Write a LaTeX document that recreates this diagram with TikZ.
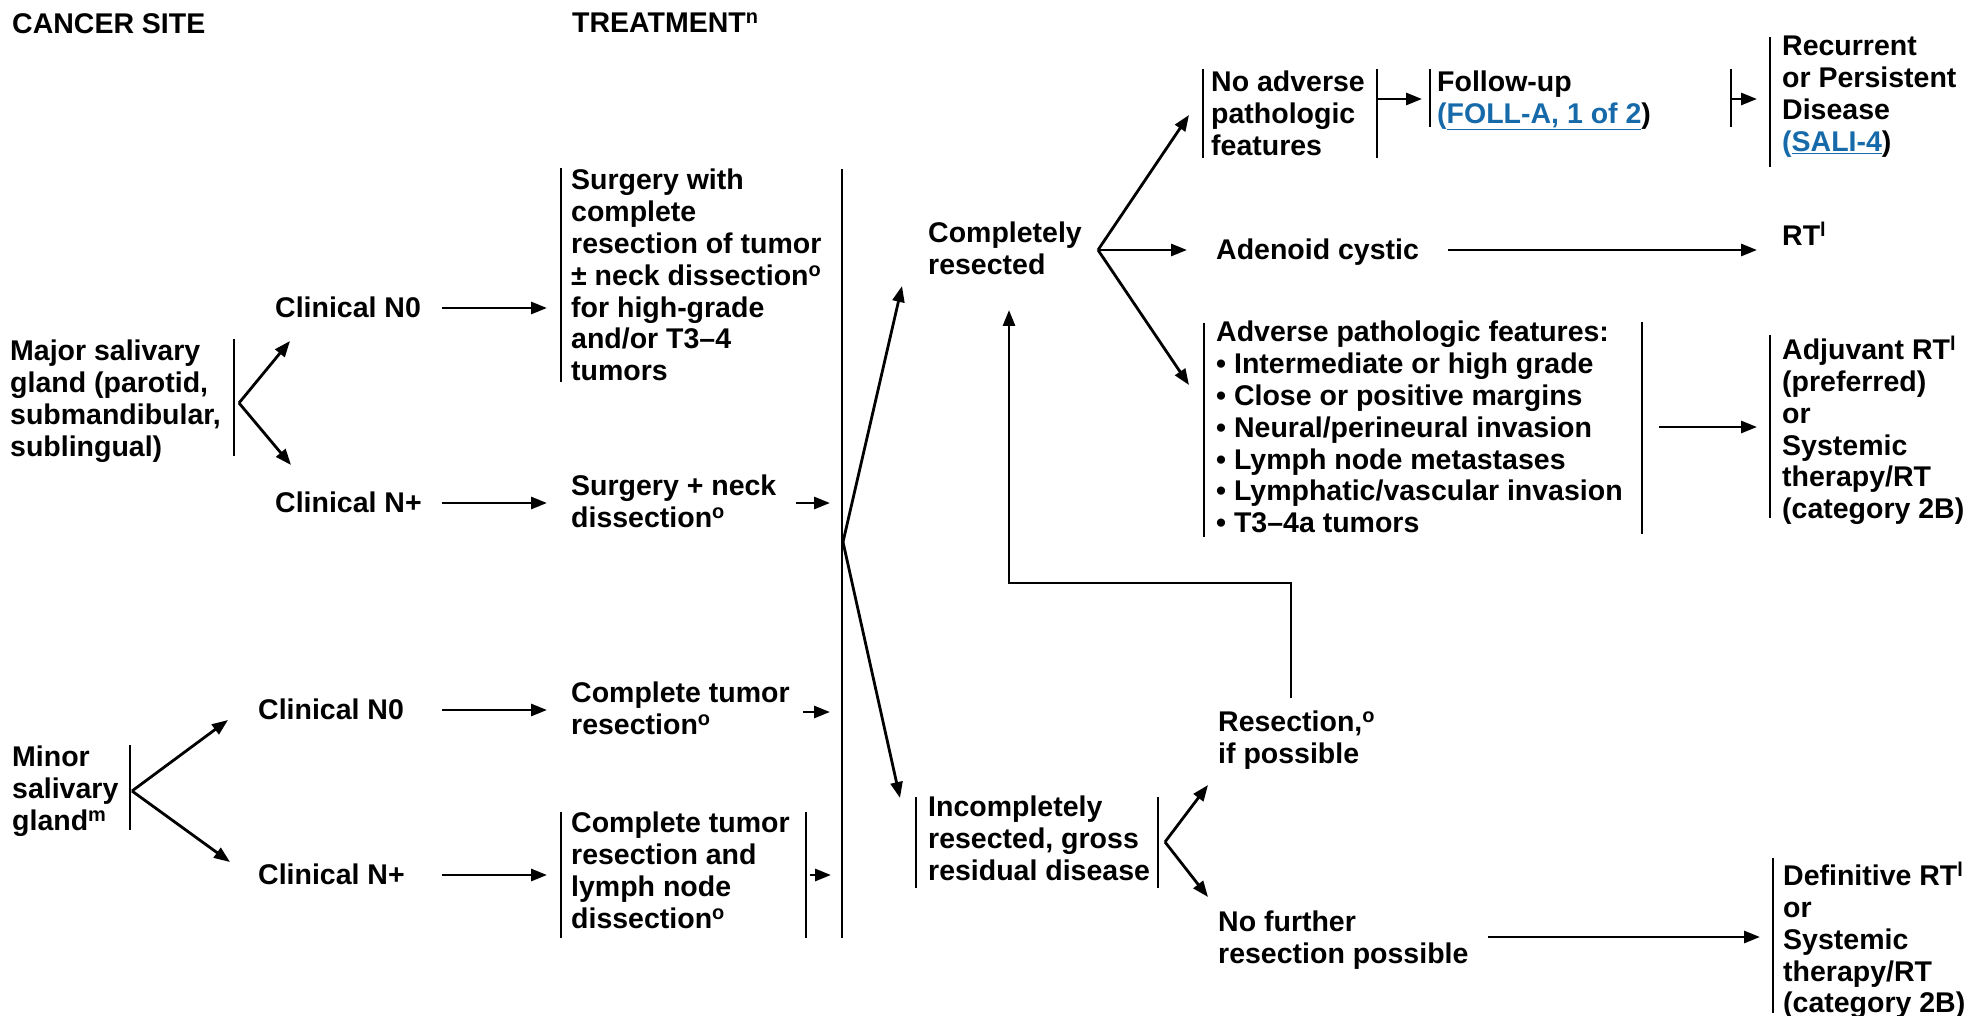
\documentclass[tikz,border=0pt]{standalone}
\usepackage{fontspec}
\setmainfont{Liberation Sans}
\usetikzlibrary{arrows.meta}
\definecolor{linkblue}{RGB}{22,106,170}
\newcommand\sups[1]{\textsuperscript{#1}}
\begin{document}
\begin{tikzpicture}[x=1pt,y=-1pt,
  txt/.style={anchor=north west, inner sep=0pt, align=left, font=\fontsize{28.5}{31.8}\selectfont\bfseries},
  bar/.style={line width=2.8pt},
  arr/.style={line width=2.8pt, -{Triangle[length=16pt,width=12pt]}}]
\useasboundingbox (0,0) rectangle (1971,1016);

% ---- text nodes
\node[txt] (cs) at (12,13) {CANCER SITE};
\node[txt] (tr) at (572,13) {TREATMENT\sups{n}};
\node[txt] (maj) at (10,340) {Major salivary\\gland (parotid,\\submandibular,\\sublingual)};
\node[txt] (cn0a) at (275,297) {Clinical N0};
\node[txt] (cnpa) at (275,492) {Clinical N+};
\node[txt] (surg1) at (571,169) {Surgery with\\complete\\resection of tumor\\± neck dissection\sups{o}\\for high-grade\\and/or T3–4\\tumors};
\node[txt] (surg2) at (571,475) {Surgery + neck\\dissection\sups{o}};
\node[txt] (minor) at (12,746) {Minor\\salivary\\gland\sups{m}};
\node[txt] (cn0b) at (258,699) {Clinical N0};
\node[txt] (cnpb) at (258,864) {Clinical N+};
\node[txt] (ctr) at (571,682) {Complete tumor\\resection\sups{o}};
\node[txt] (ctrl) at (571,812) {Complete tumor\\resection and\\lymph node\\dissection\sups{o}};
\node[txt] (cr) at (928,222) {Completely\\resected};
\node[txt] (inc) at (928,796) {Incompletely\\resected, gross\\residual disease};
\node[txt] (noadv) at (1211,71) {No adverse\\pathologic\\features};
\node[txt] (fu) at (1437,71) {Follow-up\\{\color{linkblue}(\underline{FOLL-A, 1 of 2}})};
\node[txt] (rec) at (1782,36) {Recurrent\\or Persistent\\Disease\\{\color{linkblue}(\underline{SALI-4}})};
\node[txt] (ad) at (1216,239) {Adenoid cystic};
\node[txt] (rt) at (1782,222) {RT\sups{l}};
\node[txt] (adv) at (1216,321) {Adverse pathologic features:\\• Intermediate or high grade\\• Close or positive margins\\• Neural/perineural invasion\\• Lymph node metastases\\• Lymphatic/vascular invasion\\• T3–4a tumors};
\node[txt] (adj) at (1782,336) {Adjuvant RT\sups{l}\\(preferred)\\or\\Systemic\\therapy/RT\\(category 2B)};
\node[txt] (res) at (1218,711) {Resection,\sups{o}\\if possible};
\node[txt] (nofr) at (1218,911) {No further\\resection possible};
\node[txt] (def) at (1783,862) {Definitive RT\sups{l}\\or\\Systemic\\therapy/RT\\(category 2B)};

% ---- bracket bars
\draw[bar] (234,339) -- (234,456);
\draw[bar] (561,168) -- (561,382);
\draw[bar] (842,169) -- (842,938);
\draw[bar] (130,745) -- (130,830);
\draw[bar] (561,812) -- (561,938);
\draw[bar] (806,812) -- (806,938);
\draw[bar] (916,797) -- (916,888);
\draw[bar] (1158,797) -- (1158,888);
\draw[bar] (1203,69) -- (1203,158);
\draw[bar] (1377,69) -- (1377,158);
\draw[bar] (1430,69) -- (1430,127);
\draw[bar] (1731,69) -- (1731,127);
\draw[bar] (1770,37) -- (1770,167);
\draw[bar] (1204,323) -- (1204,537);
\draw[bar] (1642,322) -- (1642,534);
\draw[bar] (1770,335) -- (1770,518);
\draw[bar] (1773,858) -- (1773,1013);

% ---- connector end points
\coordinate (majb) at (239,403);
\coordinate (majt1) at (290,341);
\coordinate (majt2) at (291,465);
\coordinate (cn0aS) at (442,308);
\coordinate (cn0aT) at (547,308);
\coordinate (cnpaS) at (442,503);
\coordinate (cnpaT) at (547,503);
\coordinate (surg2S) at (796,503);
\coordinate (surg2T) at (830,503);
\coordinate (minb) at (132,791);
\coordinate (mint1) at (228,720);
\coordinate (mint2) at (230,862);
\coordinate (cn0bS) at (442,710);
\coordinate (cn0bT) at (547,710);
\coordinate (cnpbS) at (442,875);
\coordinate (cnpbT) at (547,875);
\coordinate (ctrS) at (803,712);
\coordinate (ctrT) at (830,712);
\coordinate (ctrlS) at (810,875);
\coordinate (ctrlT) at (831,875);
\coordinate (bigb) at (843,542);
\coordinate (crT) at (902,286);
\coordinate (incT) at (900,798);
\coordinate (crb) at (1098,250);
\coordinate (noadvT) at (1189,115);
\coordinate (adT) at (1187,250);
\coordinate (advT) at (1189,385);
\coordinate (noadvS) at (1377,99);
\coordinate (fuT) at (1422,99);
\coordinate (fuS) at (1731,99);
\coordinate (recT) at (1757,99);
\coordinate (adS) at (1448,250);
\coordinate (rtT) at (1757,250);
\coordinate (advS) at (1659,427);
\coordinate (adjT) at (1757,427);
\coordinate (resS) at (1291,698);
\coordinate (loopA) at (1291,583);
\coordinate (loopB) at (1009,583);
\coordinate (crT2) at (1009,310);
\coordinate (incb) at (1165,842);
\coordinate (resT) at (1208,785);
\coordinate (nofrT) at (1208,897);
\coordinate (nofrS) at (1488,937);
\coordinate (defT) at (1760,937);

% ---- connectors
\draw[arr] (majb) -- (majt1);
\draw[arr] (majb) -- (majt2);
\draw[arr] (cn0aS) -- (cn0aT);
\draw[arr] (cnpaS) -- (cnpaT);
\draw[arr] (surg2S) -- (surg2T);
\draw[arr] (minb) -- (mint1);
\draw[arr] (minb) -- (mint2);
\draw[arr] (cn0bS) -- (cn0bT);
\draw[arr] (cnpbS) -- (cnpbT);
\draw[arr] (ctrS) -- (ctrT);
\draw[arr] (ctrlS) -- (ctrlT);
\draw[arr] (bigb) -- (crT);
\draw[arr] (bigb) -- (incT);
\draw[arr] (crb) -- (noadvT);
\draw[arr] (crb) -- (adT);
\draw[arr] (crb) -- (advT);
\draw[arr] (noadvS) -- (fuT);
\draw[arr] (fuS) -- (recT);
\draw[arr] (adS) -- (rtT);
\draw[arr] (advS) -- (adjT);
\draw[arr] (resS) -- (loopA) -- (loopB) -- (crT2);
\draw[arr] (incb) -- (resT);
\draw[arr] (incb) -- (nofrT);
\draw[arr] (nofrS) -- (defT);
\end{tikzpicture}
\end{document}
